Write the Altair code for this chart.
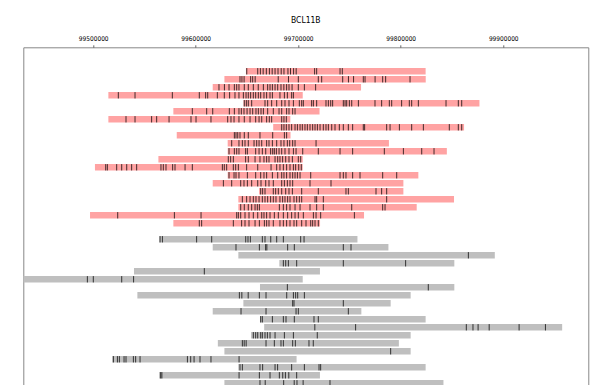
import altair as alt
import pandas as pd

# ---- data (genomic positions in kb) ----
x_domain_kb = [99431.8, 99983.0]
axis_ticks = [99500000, 99600000, 99700000, 99800000, 99900000]

red_starts = [99649.0, 99628.0, 99616.6, 99514.8, 99646.5, 99578.2, 99514.8, 99675.6, 99581.5, 99631.2,
              99631.2, 99563.6, 99501.7, 99631.2, 99616.6, 99661.8, 99641.6, 99641.6, 99496.9, 99578.2]
red_ends = [99824.3, 99824.4, 99761.3, 99704.4, 99876.8, 99720.8, 99692.3, 99861.8, 99692.5, 99788.5,
            99845.0, 99704.4, 99704.4, 99817.2, 99802.6, 99802.6, 99852.0, 99815.6, 99764.2, 99721.3]
red_marks = [
    [99649.8, 99660.5, 99663.1, 99665.8, 99668.9, 99671.9, 99674.6, 99677.4, 99680.3, 99683.4, 99686.1,
     99690.0, 99692.5, 99695.5, 99698.0, 99716.0, 99718.0, 99740.8, 99743.0],
    [99643.2, 99645.1, 99647.2, 99653.6, 99655.6, 99658.0, 99680.5, 99690.5, 99700.1, 99719.6, 99722.9,
     99743.4, 99749.0, 99754.0, 99763.5, 99765.2, 99775.0, 99782.4, 99785.3, 99809.1],
    [99622.7, 99628.0, 99632.5, 99637.7, 99640.0, 99642.2, 99647.4, 99651.3, 99656.2, 99661.0, 99666.0,
     99670.2, 99672.5, 99674.8, 99677.4, 99680.0, 99683.2, 99686.0, 99688.7, 99691.0, 99694.0, 99700.1,
     99706.0, 99717.0],
    [99524.5, 99540.8, 99577.2, 99603.5, 99609.7, 99611.7, 99621.1, 99627.9, 99633.1, 99638.3, 99642.2,
     99646.5, 99649.1, 99651.3, 99653.6, 99656.2, 99658.5, 99661.1, 99663.4, 99666.6, 99669.2, 99672.5,
     99674.8, 99682.2, 99686.5, 99689.4, 99693.6, 99695.3],
    [99647.4, 99649.4, 99651.3, 99654.6, 99667.6, 99670.2, 99674.1, 99679.0, 99683.9, 99687.1, 99691.0,
     99695.3, 99701.1, 99703.4, 99705.0, 99713.1, 99714.8, 99718.0, 99727.1, 99729.4, 99731.7, 99733.6,
     99744.0, 99745.7, 99747.3, 99749.9, 99752.2, 99758.7, 99774.9, 99781.4, 99788.9, 99791.2, 99800.9,
     99808.4, 99810.7, 99817.2, 99844.2, 99856.2, 99859.5],
    [99596.7, 99610.7, 99616.6, 99632.8, 99637.7, 99642.2, 99644.5, 99647.1, 99650.1, 99653.0, 99655.6,
     99658.8, 99661.1, 99663.7, 99666.0, 99670.2, 99675.7, 99681.3, 99683.9, 99688.7, 99691.0, 99694.6,
     99696.9],
    [99532.0, 99540.8, 99557.0, 99561.9, 99574.0, 99595.4, 99600.3, 99614.9, 99631.2, 99634.4, 99637.4,
     99642.2, 99647.4, 99653.0, 99658.5, 99661.8, 99664.4, 99669.2, 99671.8, 99674.1, 99683.9, 99686.1,
     99688.4],
    [99683.9, 99686.1, 99688.4, 99691.0, 99693.6, 99696.9, 99699.2, 99701.8, 99704.0, 99706.6, 99708.9,
     99711.5, 99714.1, 99716.4, 99718.7, 99721.3, 99724.5, 99727.1, 99729.4, 99732.7, 99735.9, 99740.1,
     99744.0, 99748.9, 99753.1, 99763.5, 99764.8, 99786.3, 99789.6, 99798.7, 99810.7, 99822.1, 99847.4,
     99856.2, 99859.5],
    [99637.7, 99639.3, 99641.0, 99643.2, 99647.4, 99651.3, 99662.7, 99675.1, 99686.5, 99688.7],
    [99635.1, 99642.2, 99645.5, 99648.1, 99651.3, 99656.9, 99659.5, 99661.8, 99664.4, 99669.2, 99671.5,
     99674.8, 99679.0, 99683.2, 99686.1, 99689.4, 99691.7, 99694.6, 99696.9, 99717.4],
    [99632.5, 99637.7, 99640.0, 99642.2, 99648.7, 99650.4, 99658.5, 99661.8, 99665.0, 99668.3, 99673.1,
     99675.1, 99676.7, 99678.7, 99681.3, 99683.9, 99687.1, 99691.0, 99695.3, 99697.9, 99704.4, 99719.6,
     99740.8, 99753.1, 99784.0, 99802.6, 99820.5, 99832.5],
    [99631.8, 99634.1, 99636.7, 99648.7, 99651.3, 99657.9, 99662.7, 99666.6, 99669.2, 99671.5, 99677.4,
     99680.0, 99682.2, 99684.8, 99687.8, 99691.0, 99694.3, 99700.1, 99702.4],
    [99512.2, 99513.8, 99522.9, 99527.8, 99532.7, 99537.5, 99542.4, 99566.1, 99568.4, 99571.0, 99577.5,
     99579.8, 99589.6, 99596.7, 99626.0, 99627.9, 99630.2, 99636.7, 99639.0, 99641.6, 99649.7, 99660.5,
     99673.5, 99679.0, 99682.2, 99685.5, 99688.7, 99692.0, 99695.3, 99697.5, 99700.5, 99703.0],
    [99632.5, 99637.4, 99639.3, 99642.2, 99650.4, 99658.5, 99663.4, 99666.6, 99669.2, 99674.8, 99680.0,
     99683.9, 99686.1, 99688.7, 99692.0, 99694.6, 99696.9, 99699.2, 99701.8, 99712.2, 99740.8, 99744.0,
     99746.6, 99753.1, 99760.3, 99782.4, 99796.1],
    [99627.0, 99635.1, 99643.9, 99647.1, 99650.4, 99654.6, 99660.5, 99663.7, 99668.3, 99671.5, 99675.7,
     99683.9, 99686.5, 99689.4, 99692.0, 99694.6, 99711.5, 99732.0],
    [99663.4, 99665.3, 99667.6, 99675.7, 99678.0, 99680.6, 99683.9, 99687.8, 99691.0, 99694.3, 99703.4,
     99719.6, 99746.6, 99748.9, 99775.9, 99781.4, 99786.3],
    [99645.5, 99649.7, 99653.0, 99656.2, 99658.8, 99661.8, 99665.0, 99667.6, 99670.2, 99673.1, 99675.7,
     99678.3, 99682.2, 99684.8, 99687.1, 99689.7, 99692.0, 99695.9, 99698.5, 99701.1, 99703.4, 99716.4,
     99718.0, 99724.5, 99786.3],
    [99643.9, 99647.4, 99651.3, 99654.6, 99657.9, 99660.1, 99662.1, 99681.6, 99685.5, 99688.7, 99692.0,
     99696.9, 99701.8, 99711.5, 99718.0, 99724.5, 99752.2, 99782.4, 99784.7],
    [99523.9, 99579.2, 99605.2, 99640.0, 99641.6, 99643.9, 99648.1, 99652.0, 99656.2, 99660.5, 99664.4,
     99666.6, 99669.2, 99672.5, 99676.7, 99680.6, 99685.5, 99689.7, 99693.6, 99696.9, 99700.1, 99705.0,
     99714.8, 99717.4, 99721.9, 99754.8],
    [99603.5, 99605.8, 99636.7, 99644.8, 99648.1, 99652.0, 99657.9, 99662.1, 99667.0, 99669.2, 99671.5,
     99675.7, 99682.2, 99685.5, 99688.7, 99692.0, 99695.9, 99698.5, 99703.4, 99707.6, 99712.2, 99714.1,
     99716.4, 99719.6],
]

gray_starts = [99564.5, 99616.6, 99641.6, 99681.6, 99539.8, 99431.8, 99662.7, 99543.1, 99646.5, 99616.6,
               99662.7, 99666.8, 99654.0, 99621.6, 99628.0, 99518.5, 99641.5, 99564.2, 99628.0]
gray_ends = [99757.8, 99788.0, 99891.8, 99852.3, 99721.2, 99704.4, 99852.3, 99809.7, 99790.2, 99761.6,
             99824.3, 99957.5, 99809.7, 99798.2, 99809.7, 99698.4, 99824.3, 99721.2, 99841.7]
gray_marks = [
    [99565.2, 99567.5, 99600.9, 99615.6, 99648.8, 99651.0, 99653.3, 99665.0, 99667.6, 99673.2, 99679.0,
     99685.5, 99702.4, 99705.7],
    [99639.3, 99662.1, 99668.2, 99669.4, 99689.7, 99696.2, 99744.0, 99751.5],
    [99866.0],
    [99685.5, 99687.8, 99690.4, 99698.5, 99744.0, 99804.8],
    [99608.4],
    [99494.3, 99500.1, 99527.8, 99539.4],
    [99689.4, 99826.9],
    [99642.6, 99645.0, 99651.2, 99662.1, 99668.6, 99688.8, 99695.3, 99697.5, 99699.5, 99706.0],
    [99694.6, 99695.9, 99744.0],
    [99644.2, 99668.6, 99697.9, 99700.1, 99748.9],
    [99663.4, 99665.0, 99674.8, 99685.5, 99688.1, 99696.2, 99715.4, 99719.6],
    [99716.2, 99756.0, 99864.0, 99870.5, 99875.5, 99886.3, 99915.5, 99941.2],
    [99656.2, 99658.5, 99660.5, 99663.4, 99665.0, 99667.6, 99669.9, 99672.5, 99677.4, 99686.5, 99695.3,
     99718.6],
    [99645.5, 99647.3, 99649.2, 99668.6, 99676.7, 99683.2, 99685.5, 99694.6, 99697.2, 99710.5, 99714.7],
    [99790.2],
    [99519.7, 99523.6, 99525.5, 99530.1, 99532.0, 99539.2, 99541.4, 99545.7, 99591.9, 99595.1, 99598.4,
     99604.2, 99614.9, 99642.3],
    [99643.2, 99645.5, 99662.7, 99665.3, 99677.4, 99679.9, 99693.6, 99706.0, 99720.3, 99721.9],
    [99565.8, 99567.0, 99642.3, 99662.1, 99672.5, 99681.6, 99684.9, 99687.5, 99690.8, 99698.5],
    [99662.7, 99667.8, 99685.8, 99696.1, 99698.8, 99704.8, 99731.0],
]

# ---- tables ----
bar_rows, mark_rows = [], []
for i, (s, e, ms) in enumerate(zip(red_starts, red_ends, red_marks)):
    bar_rows.append({"start": s * 1000, "end": e * 1000, "row": i, "grp": "red"})
    for m in ms:
        mark_rows.append({"pos": m * 1000, "row": i})
offset = len(red_starts) + 1
for j, (s, e, ms) in enumerate(zip(gray_starts, gray_ends, gray_marks)):
    r = offset + j
    bar_rows.append({"start": s * 1000, "end": e * 1000, "row": r, "grp": "gray"})
    for m in ms:
        mark_rows.append({"pos": m * 1000, "row": r})

bars = pd.DataFrame(bar_rows)
bars["y0"] = bars["row"] - 0.4
bars["y1"] = bars["row"] + 0.4
marks = pd.DataFrame(mark_rows)
marks["y0"] = marks["row"] - 0.4
marks["y1"] = marks["row"] + 0.4

FONT = "DejaVu Sans Condensed, DejaVu Sans, sans-serif"
xscale = alt.Scale(domain=[x_domain_kb[0] * 1000, x_domain_kb[1] * 1000], nice=False, zero=False)
yscale = alt.Scale(domain=[-3, 39.25], reverse=True, nice=False, zero=False)

xaxis = alt.Axis(orient="top", values=axis_ticks, format="d", title=None, grid=False, domain=False,
                 labelFont=FONT, labelFontSize=6.5, labelColor="#000000", labelPadding=3.5,
                 tickSize=2.5, tickColor="#666666", labelFlush=False)

bar_layer = alt.Chart(bars).mark_rect(clip=True).encode(
    x=alt.X("start:Q", scale=xscale, axis=xaxis),
    x2="end:Q",
    y=alt.Y("y0:Q", scale=yscale, axis=None),
    y2="y1:Q",
    color=alt.Color("grp:N", scale=alt.Scale(domain=["red", "gray"], range=["#ffa3a3", "#bfbfbf"]),
                    legend=None),
)

mark_layer = alt.Chart(marks).mark_rule(clip=True, color="#000000", opacity=0.75, strokeWidth=1).encode(
    x=alt.X("pos:Q", scale=xscale),
    y=alt.Y("y0:Q", scale=yscale),
    y2="y1:Q",
)

chart = alt.layer(bar_layer, mark_layer).properties(
    width=565,
    height=338,
    autosize=alt.AutoSizeParams(type="none"),
    padding={"left": 15.3, "top": 39.3, "right": 10, "bottom": 0},
    title=alt.TitleParams("BCL11B", font=FONT, fontSize=8.5, fontWeight="normal", color="#000000",
                          offset=11, anchor="middle"),
).configure_view(stroke="#888888", strokeWidth=1)

chart.save("out.html", embed_options={"renderer": "svg", "actions": False})
